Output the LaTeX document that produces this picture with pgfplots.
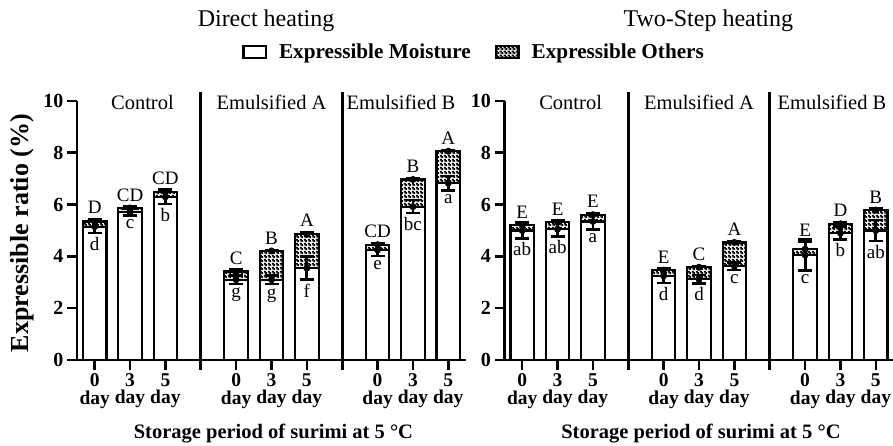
\documentclass[border=0pt]{standalone}
\usepackage{pgfplots}
\pgfplotsset{compat=1.18}
\usepackage{pgfplotstable}
\usepackage{fontspec}
\setmainfont{Liberation Serif}
\usetikzlibrary{patterns}

\pgfdeclarepatternformonly{finecheck}{\pgfqpoint{0pt}{0pt}}{\pgfqpoint{4pt}{4pt}}{\pgfqpoint{4pt}{4pt}}{%
  \pgfpathrectangle{\pgfqpoint{0pt}{0pt}}{\pgfqpoint{4pt}{4pt}}%
  \pgfpathrectangle{\pgfqpoint{0.25pt}{0.25pt}}{\pgfqpoint{1.5pt}{1.5pt}}%
  \pgfpathrectangle{\pgfqpoint{2.25pt}{2.25pt}}{\pgfqpoint{1.5pt}{1.5pt}}%
  \pgfseteorule\pgfusepath{fill}}

% x: bar position, M: expressible moisture, Me: its error, T: total (moisture+others), Te: its error
\pgfplotstableread{
x  M    Me   T    Te   up lo
1  5.15 0.24 5.35 0.09 D  d
2  5.72 0.14 5.87 0.06 CD c
3  6.30 0.28 6.50 0.07 CD b
5  3.10 0.16 3.42 0.07 C  g
6  3.10 0.17 4.21 0.03 B  g
7  3.55 0.44 4.85 0.09 A  f
9  4.25 0.23 4.45 0.06 CD e
10 5.92 0.25 6.97 0.05 B  bc
11 6.83 0.28 8.06 0.05 A  a
}\direct

\pgfplotstableread{
x  M    Me   T    Te   up lo
1  5.00 0.30 5.20 0.07 E  ab
2  5.05 0.28 5.32 0.06 E  ab
3  5.35 0.32 5.61 0.07 E  a
5  3.25 0.27 3.47 0.07 E  d
6  3.12 0.16 3.58 0.05 C  d
7  3.62 0.14 4.54 0.06 A  c
9  4.05 0.60 4.28 0.27 E  c
10 4.90 0.25 5.26 0.06 D  b
11 5.00 0.40 5.79 0.05 B  ab
}\twostep

\tikzset{grp/.style={anchor=base, font=\fontsize{20.5}{22}\selectfont}}

\pgfplotsset{
  panel/.style={
    scale only axis, width=389pt, height=259pt,
    xmin=0.5, xmax=11.5, ymin=0, ymax=10,
    axis lines=left, axis line style={-, line width=2.6pt},
    tick align=outside, major tick length=10pt,
    tick style={line width=2.6pt, black},
    xtick={1,...,11}, ytick={0,2,...,10},
    xticklabels={{0\\day},{3\\day},{5\\day},{},{0\\day},{3\\day},{5\\day},{},{0\\day},{3\\day},{5\\day}},
    xticklabel style={font=\bfseries\fontsize{19.5}{17.5}\selectfont, align=center},
    yticklabel style={font=\bfseries\fontsize{20}{20}\selectfont},
    /pgf/number format/assume math mode=true,
    clip=false,
    every axis x label/.style={at={(axis description cs:0.505,-0.305)}, anchor=base, font=\bfseries\fontsize{20.5}{22}\selectfont},
    xlabel={Storage period of surimi at 5 °C},
  },
  totbar/.style={ybar, bar width=23.5pt, bar shift=0pt, draw=black, line width=2.2pt, pattern=finecheck, forget plot},
  moibar/.style={ybar, bar width=23.5pt, bar shift=0pt, draw=black, line width=2.2pt, fill=white, forget plot},
  errb/.style={forget plot, only marks, mark=none, black, line width=2.8pt,
    error bars/.cd, y dir=#1, y explicit,
    error bar style={solid, black, line width=2.8pt},
    error mark=-,
    error mark options={solid, black, rotate=90, mark size=7pt, line width=2.6pt}},
  uplab/.style={forget plot, only marks, mark=none, nodes near coords, point meta=explicit symbolic,
    nodes near coords style={anchor=south, font=\fontsize{19}{19}\selectfont, inner sep=0pt, yshift=5pt, text=black}},
  lolab/.style={forget plot, only marks, mark=none, nodes near coords, point meta=explicit symbolic,
    nodes near coords style={anchor=north, font=\fontsize{19}{19}\selectfont, inner sep=0pt, yshift=-4pt, text=black}},
  seps/.style={forget plot, line width=2.6pt, black},
}

\begin{document}
\begin{tikzpicture}
\useasboundingbox (0pt,0pt) rectangle (893pt,446pt);

\begin{axis}[panel, at={(77pt,86pt)}, anchor=south west,
  ylabel={Expressible ratio (\%)},
  every axis y label/.style={at={(axis description cs:-0.1234,0.49)}, rotate=90, anchor=base, font=\bfseries\fontsize{26}{28}\selectfont},
  legend image code/.code={\draw[#1, line width=2.4pt] (0pt,-5.8pt) rectangle (22.5pt,5.8pt);},
  legend style={at={(axis description cs:1.0206,1.189)}, anchor=center, draw=none, fill=none,
    legend columns=2, font=\bfseries\fontsize{21.2}{22}\selectfont,
    /tikz/every odd column/.append style={column sep=10pt},
    /tikz/every even column/.append style={column sep=22pt}},
  legend cell align=left,
]
\addlegendimage{draw=black, fill=white}
\addlegendentry{Expressible Moisture}
\addlegendimage{draw=black, pattern=finecheck}
\addlegendentry{Expressible Others}

\addplot[totbar] table[x=x, y=T] {\direct};
\addplot[moibar] table[x=x, y=M] {\direct};
\addplot[errb=plus] table[x=x, y=T, y error=Te] {\direct};
\addplot[errb=both] table[x=x, y=M, y error=Me] {\direct};
\addplot[uplab] table[x=x, y expr=\thisrow{T}+\thisrow{Te}, meta=up] {\direct};
\addplot[lolab] table[x=x, y expr=\thisrow{M}-\thisrow{Me}, meta=lo] {\direct};
\addplot[seps] coordinates {(4,0) (4,10.35)};
\addplot[seps] coordinates {(8,0) (8,10.35)};

\node[grp] at (axis cs:2.35,9.69) {Control};
\node[grp] at (axis cs:6.0,9.69) {Emulsified A};
\node[grp] at (axis cs:9.66,9.69) {Emulsified B};
\node[anchor=base, font=\fontsize{24}{26}\selectfont] at (axis description cs:0.486,1.286) {Direct heating};
\end{axis}

\begin{axis}[panel, at={(504.5pt,86pt)}, anchor=south west]
\addplot[totbar] table[x=x, y=T] {\twostep};
\addplot[moibar] table[x=x, y=M] {\twostep};
\addplot[errb=plus] table[x=x, y=T, y error=Te] {\twostep};
\addplot[errb=both] table[x=x, y=M, y error=Me] {\twostep};
\addplot[uplab] table[x=x, y expr=\thisrow{T}+\thisrow{Te}, meta=up] {\twostep};
\addplot[lolab] table[x=x, y expr=\thisrow{M}-\thisrow{Me}, meta=lo] {\twostep};
\addplot[seps] coordinates {(4,0) (4,10.35)};
\addplot[seps] coordinates {(8,0) (8,10.35)};

\node[grp] at (axis cs:2.37,9.69) {Control};
\node[grp] at (axis cs:6.0,9.69) {Emulsified A};
\node[grp] at (axis cs:9.76,9.69) {Emulsified B};
\node[anchor=base, font=\fontsize{24}{26}\selectfont] at (axis description cs:0.524,1.286) {Two-Step heating};
\end{axis}
\end{tikzpicture}
\end{document}
